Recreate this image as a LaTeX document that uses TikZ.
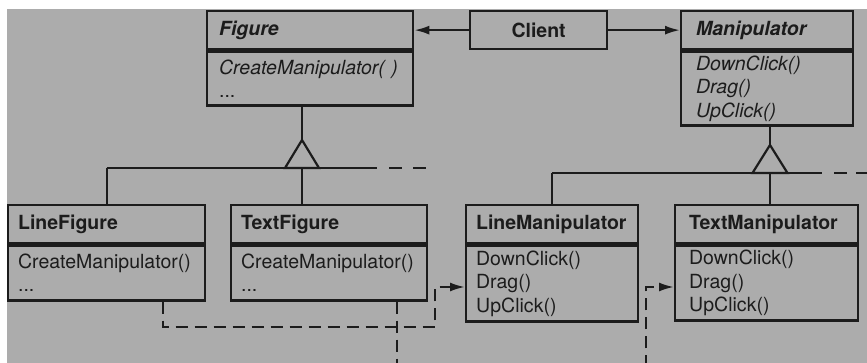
\documentclass[tikz,border=0pt]{standalone}
\usepackage{fontspec}
\setmainfont{TeX Gyre Heros}
\usetikzlibrary{arrows.meta,calc}
\definecolor{paper}{RGB}{172,172,172}
\definecolor{ink}{RGB}{28,28,28}
\begin{document}
\begin{tikzpicture}[x=1pt,y=-1pt,
  every node/.style={font=\fontsize{19.5}{23.4}\selectfont, text=ink},
  hdr/.style={draw=ink, line width=2.3pt, rectangle, anchor=north west, align=left, inner ysep=0pt, minimum height=38pt},
  bdy/.style={draw=ink, line width=2.3pt, rectangle, anchor=north west, align=left, inner ysep=0pt},
  conn/.style={draw=ink, line width=2.2pt},
  dep/.style={draw=ink, line width=2.2pt, dash pattern=on 12pt off 7pt},
  tip/.style={-{Latex[length=15pt,width=9pt]}},
  tri/.style={draw=ink, line width=2.2pt, line join=miter}]
\useasboundingbox (0,0) rectangle (867,363);
\clip (0,0) rectangle (867,363);
\fill[white] (0,0) rectangle (867,363);
\fill[paper] (7,9) rectangle (867,363);

% Figure
\node[hdr, text width=182pt, inner xsep=12pt] (fig) at (206,10) {\textbf{\textit{Figure}}};
\node[bdy, text width=182pt, inner xsep=12pt, minimum height=54pt] (figb) at (fig.south west) {\textit{CreateManipulator( )}\\...};
% Client
\node[hdr, text width=117pt, inner xsep=10pt, align=center] (cl) at (469,10) {\textbf{Client}};
% Manipulator
\node[hdr, text width=142pt, inner xsep=15pt] (man) at (680,10) {\textbf{\textit{Manipulator}}};
\node[bdy, text width=142pt, inner xsep=15pt, minimum height=74pt] (manb) at (man.south west) {\textit{DownClick()}\\\textit{Drag()}\\\textit{UpClick()}};
% LineFigure
\node[hdr, text width=177pt, inner xsep=10pt] (lf) at (7,204) {\textbf{LineFigure}};
\node[bdy, text width=177pt, inner xsep=10pt, minimum height=55pt] (lfb) at (lf.south west) {CreateManipulator()\\...};
% TextFigure
\node[hdr, text width=176pt, inner xsep=10pt] (tf) at (230,204) {\textbf{TextFigure}};
\node[bdy, text width=176pt, inner xsep=10pt, minimum height=55pt] (tfb) at (tf.south west) {CreateManipulator()\\...};
% LineManipulator
\node[hdr, text width=152pt, inner xsep=10pt] (lm) at (465,204) {\textbf{LineManipulator}};
\node[bdy, text width=152pt, inner xsep=10pt, minimum height=76pt] (lmb) at (lm.south west) {DownClick()\\Drag()\\UpClick()};
% TextManipulator
\node[hdr, text width=155pt, inner xsep=14pt] (tm) at (674,204) {\textbf{TextManipulator}};
\node[bdy, text width=155pt, inner xsep=14pt, minimum height=75pt] (tmb) at (tm.south west) {DownClick()\\Drag()\\UpClick()};

% Client associations
\draw[conn, tip] (cl.west) -- (fig.east);
\draw[conn, tip] (cl.east) -- (man.west);

% Figure inheritance
\coordinate (fj) at (302,168);
\draw[conn] (fj |- figb.south) -- ($(fj)+(0,-28)$);
\draw[tri] ($(fj)+(-17,0)$) -- ($(fj)+(0,-28)$) -- ($(fj)+(17,0)$) -- cycle;
\draw[conn] (lf.north |- fj) -- (377,168);
\draw[conn, dash pattern=on 13pt off 11pt] (389,168) -- (427,168);
\draw[conn] (lf.north |- fj) -- (lf.north);
\draw[conn] (fj) -- (fj |- tf.north);

% Manipulator inheritance
\coordinate (mj) at (770,173);
\draw[conn] (mj |- manb.south) -- ($(mj)+(0,-28)$);
\draw[tri] ($(mj)+(-17.5,0)$) -- ($(mj)+(0,-28)$) -- ($(mj)+(17.5,0)$) -- cycle;
\draw[conn] (lm.north |- mj) -- (822,173);
\draw[conn, dash pattern=on 13pt off 9pt] (834,173) -- (867,173);
\draw[conn] (lm.north |- mj) -- (lm.north);
\draw[conn] (mj) -- (mj |- tm.north);

% Creation dependencies
\coordinate (d1s) at (163,327);
\coordinate (d1c) at (435,327);
\coordinate (d1) at (435,287);
\draw[dep, tip] (d1s |- lfb.south) -- (d1s) -- (d1c) -- (d1) -- (d1 -| lmb.west);
\coordinate (d2a) at (397,400);
\coordinate (d2b) at (646,400);
\coordinate (d2c) at (646,287);
\draw[dep, tip] (d2a |- tfb.south) -- (d2a) -- (d2b) -- (d2c) -- (d2c -| tmb.west);
\end{tikzpicture}
\end{document}
